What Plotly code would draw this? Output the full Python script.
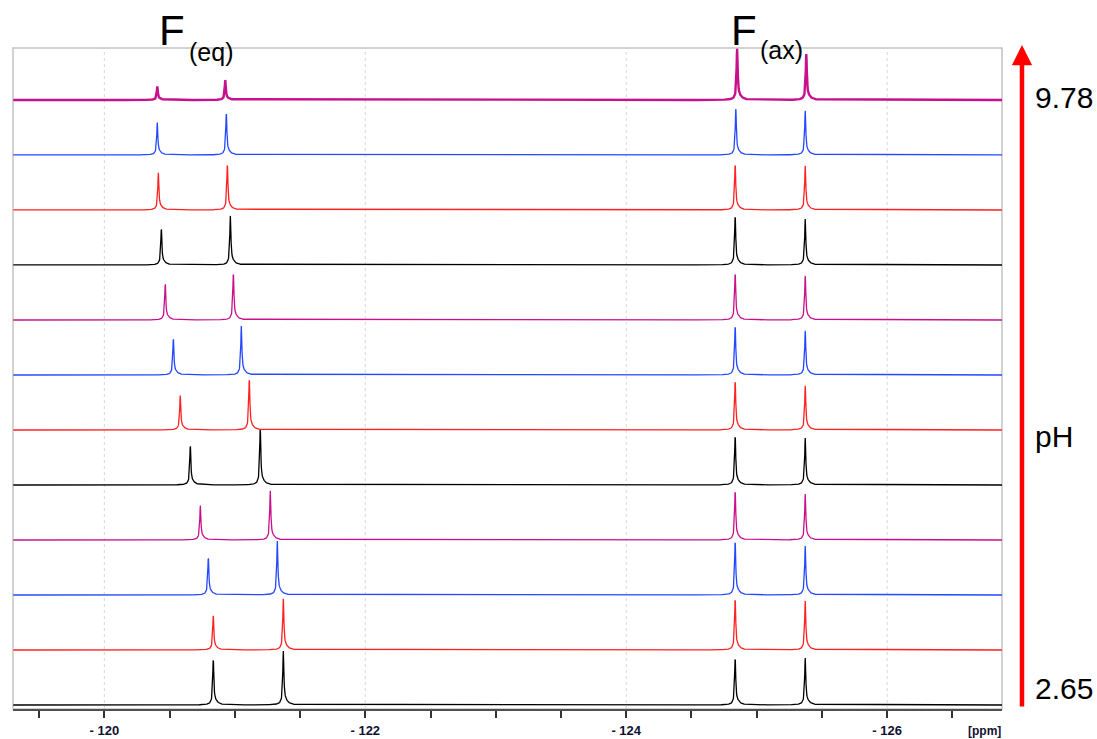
import numpy as np
import plotly.graph_objects as go

# ---- data (spectra listed from bottom, pH 2.65, to top, pH 9.78) ----
trace_colors = ["#000000", "#FF2020", "#2448FF", "#C8108C",
                "#000000", "#FF2020", "#2448FF", "#C8108C",
                "#000000", "#FF2020", "#2448FF", "#C8108C"]
eq1_ppm = [-120.835, -120.835, -120.797, -120.736, -120.659, -120.582,
           -120.529, -120.467, -120.437, -120.414, -120.406, -120.406]
eq2_ppm = [-121.372, -121.372, -121.326, -121.272, -121.195, -121.111,
           -121.050, -120.989, -120.966, -120.943, -120.935, -120.927]
ax1_ppm = [-124.835, -124.835, -124.835, -124.835, -124.835, -124.835,
           -124.835, -124.835, -124.835, -124.835, -124.84, -124.85]
ax2_ppm = [-125.372, -125.372, -125.372, -125.372, -125.372, -125.372,
           -125.372, -125.372, -125.372, -125.372, -125.372, -125.38]
eq1_int = [0.85, 0.64, 0.69, 0.64, 0.73, 0.64, 0.67, 0.67, 0.67, 0.69, 0.60, 0.25]
eq2_int = [1.00, 0.95, 1.00, 0.91, 1.05, 0.95, 0.91, 0.87, 0.91, 0.85, 0.78, 0.36]
ax1_int = [0.87, 0.95, 1.00, 0.91, 0.91, 0.91, 0.91, 0.87, 0.91, 0.85, 0.85, 0.95]
ax2_int = [0.87, 0.91, 0.91, 0.85, 0.87, 0.82, 0.82, 0.82, 0.85, 0.82, 0.82, 0.85]

x_range = [-119.30, -126.88]
tick_vals = [-119.5, -120.0, -120.5, -121.0, -121.5, -122.0, -122.5, -123.0,
             -123.5, -124.0, -124.5, -125.0, -125.5, -126.0, -126.5]
major_ticks = [-120.0, -122.0, -124.0, -126.0]
major_labels = ["- 120", "- 122", "- 124", "- 126"]
ph_labels = ["2.65", "pH", "9.78"]

# ---- build lineshapes from peak parameters ----
ppm = np.arange(x_range[1], x_range[0], 0.002)


def peak(x0, h):
    g = 0.005
    main = g**2 / ((ppm - x0)**2 + g**2)
    tail = 0.08 * (0.025**2) / ((ppm - (x0 - 0.015))**2 + 0.025**2)
    return h * (main + tail) / 1.08


fig = go.Figure()
for i, col in enumerate(trace_colors):
    y = (i + peak(eq1_ppm[i], eq1_int[i]) + peak(eq2_ppm[i], eq2_int[i])
         + peak(ax1_ppm[i], ax1_int[i]) + peak(ax2_ppm[i], ax2_int[i]))
    fig.add_trace(go.Scatter(x=ppm, y=y, mode="lines",
                             line=dict(color=col, width=2.4 if i == 11 else 1.3),
                             hoverinfo="skip", showlegend=False))

# grid lines at labelled ticks
for v in major_ticks:
    fig.add_shape(type="line", xref="x", yref="paper", x0=v, x1=v, y0=0, y1=1,
                  line=dict(color="#D8D8D8", width=1, dash="dot"), layer="below")
# frame
fig.add_shape(type="rect", xref="paper", yref="paper", x0=0, x1=1, y0=0, y1=1,
              line=dict(color="#C4C4C4", width=1.5), layer="below")

tick_text = [major_labels[major_ticks.index(v)] if v in major_ticks else "" for v in tick_vals]

fig.update_layout(
    width=1097, height=739,
    margin=dict(l=13, r=95, t=48, b=30, autoexpand=False),
    paper_bgcolor="white", plot_bgcolor="white",
    xaxis=dict(range=x_range, tickmode="array", tickvals=tick_vals, ticktext=tick_text,
               ticks="outside", ticklen=7, tickwidth=1.5, tickcolor="#333333",
               showgrid=False, zeroline=False, showline=True, linecolor="#505050",
               linewidth=2, ticklabelstandoff=1, automargin=False,
               tickfont=dict(family="Liberation Sans, Arial", size=13, color="#111133",
                             weight="bold")),
    yaxis=dict(range=[-0.073, 11.945], visible=False, fixedrange=True),
    font=dict(family="Liberation Sans, Arial", color="black"),
)

ann = []
# F labels
ann.append(dict(text="F", x=0.1608, y=1.027, xref="paper", yref="paper", showarrow=False,
                font=dict(size=42), xanchor="center", yanchor="middle"))
ann.append(dict(text="(eq)", x=0.1759, y=0.994, xref="paper", yref="paper", showarrow=False,
                font=dict(size=25), xanchor="left", yanchor="middle"))
ann.append(dict(text="F", x=0.7391, y=1.027, xref="paper", yref="paper", showarrow=False,
                font=dict(size=42), xanchor="center", yanchor="middle"))
ann.append(dict(text="(ax)", x=0.7533, y=0.997, xref="paper", yref="paper", showarrow=False,
                font=dict(size=25), xanchor="left", yanchor="middle"))
# [ppm]
ann.append(dict(text="[ppm]", x=0.9818, y=-0.034, xref="paper", yref="paper", showarrow=False,
                font=dict(size=12, color="#111133", weight="bold"),
                xanchor="center", yanchor="middle"))
# red arrow
ann.append(dict(text="", x=1.0202, y=1.0045, xref="paper", yref="paper", showarrow=True,
                ax=0, ay=663, axref="pixel", ayref="pixel",
                arrowcolor="#FF0000", arrowwidth=4.5, arrowhead=2, arrowsize=0.9))
# pH labels
for lab, yy in zip(ph_labels, [0.0303, 0.4115, 0.9244]):
    ann.append(dict(text=lab, x=1.0313, y=yy, xref="paper", yref="paper", showarrow=False,
                    font=dict(size=30), xanchor="left", yanchor="middle"))
fig.update_layout(annotations=ann)

fig.write_html("out.html", config={"displayModeBar": False},
               post_script="document.body.style.margin='0';document.body.style.padding='0';")
